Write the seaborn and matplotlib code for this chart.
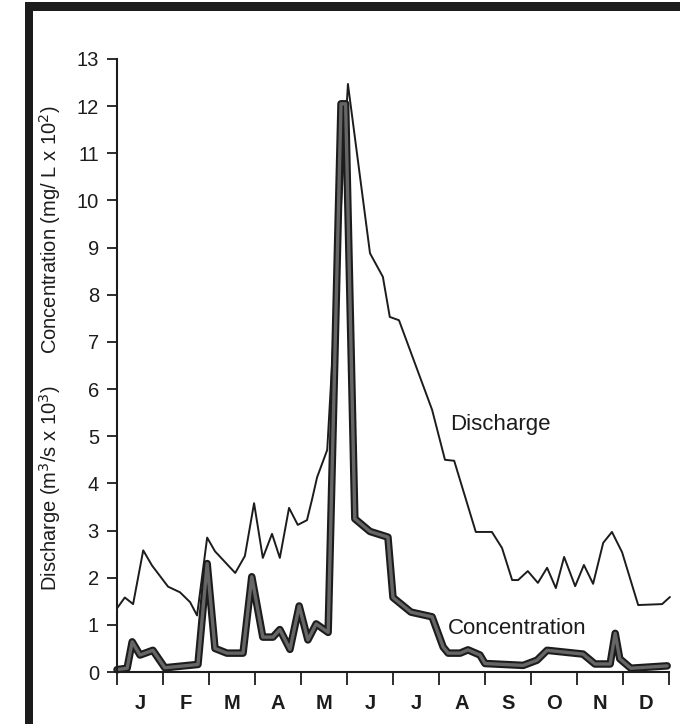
import matplotlib
matplotlib.use("Agg")
import numpy as np
import pandas as pd
import matplotlib.pyplot as plt
import matplotlib.patheffects as pe
from matplotlib.patches import Rectangle
import seaborn as sns

# x positions are in months from 1 January (0 = start of J, 12 = end of D)
months = ['J', 'F', 'M', 'A', 'M', 'J', 'J', 'A', 'S', 'O', 'N', 'D']

discharge_x = [0.0, 0.17, 0.35, 0.57, 0.76, 1.11, 1.37, 1.59, 1.74, 1.96,
               2.13, 2.57, 2.78, 2.98, 3.17, 3.37, 3.54, 3.74, 3.93, 4.13,
               4.24, 4.35, 4.57, 5.02, 5.50, 5.78, 5.93, 6.13, 6.85, 7.13,
               7.33, 7.80, 8.15, 8.37, 8.59, 8.72, 8.93, 9.15, 9.35, 9.54,
               9.72, 9.96, 10.15, 10.35, 10.57, 10.76, 10.98, 11.33, 11.85, 12.02]
discharge = [1.35, 1.58, 1.44, 2.58, 2.26, 1.81, 1.69, 1.48, 1.20, 2.85,
             2.56, 2.10, 2.46, 3.58, 2.42, 2.93, 2.42, 3.48, 3.12, 3.22,
             3.66, 4.13, 4.71, 12.47, 8.88, 8.38, 7.53, 7.46, 5.56, 4.50,
             4.48, 2.97, 2.97, 2.63, 1.95, 1.95, 2.14, 1.89, 2.21, 1.78,
             2.44, 1.82, 2.27, 1.87, 2.74, 2.97, 2.54, 1.42, 1.44, 1.59]

conc_x = [0.0, 0.22, 0.33, 0.50, 0.78, 1.04, 1.76, 1.96, 2.13, 2.39,
          2.74, 2.93, 3.17, 3.39, 3.54, 3.76, 3.96, 4.15, 4.33, 4.59,
          4.87, 4.97, 5.17, 5.50, 5.89, 6.00, 6.39, 6.85, 7.09, 7.20,
          7.46, 7.63, 7.89, 8.00, 8.83, 9.13, 9.35, 10.13, 10.39, 10.72,
          10.83, 10.93, 11.17, 11.96]
concentration = [0.05, 0.08, 0.64, 0.36, 0.46, 0.09, 0.16, 2.30, 0.50, 0.40,
                 0.40, 2.02, 0.74, 0.74, 0.90, 0.48, 1.40, 0.68, 1.02, 0.84,
                 12.05, 12.05, 3.25, 2.98, 2.86, 1.58, 1.27, 1.17, 0.53, 0.40,
                 0.40, 0.47, 0.36, 0.18, 0.14, 0.25, 0.46, 0.38, 0.17, 0.17,
                 0.82, 0.28, 0.08, 0.13]

df_d = pd.DataFrame({'month': discharge_x, 'value': discharge})
df_c = pd.DataFrame({'month': conc_x, 'value': concentration})

sns.set_theme(style="ticks")
plt.rcParams['font.family'] = ['Liberation Sans', 'DejaVu Sans']

INK = '#1c1c1c'

fig = plt.figure(figsize=(6.8, 7.24), dpi=100)
ax = fig.add_axes([117 / 680, 1 - 672 / 724, 552 / 680, 613 / 724])

sns.lineplot(data=df_d, x='month', y='value', ax=ax, color=INK, lw=1.4,
             sort=False, clip_on=False)
sns.lineplot(data=df_c, x='month', y='value', ax=ax, color='#666666', lw=2.4,
             sort=False, clip_on=False, solid_joinstyle='round',
             path_effects=[pe.Stroke(linewidth=5.4, foreground=INK, joinstyle='round'),
                           pe.Normal()])

ax.set_xlim(0, 12)
ax.set_ylim(0, 13)
sns.despine(ax=ax)
for s in ['left', 'bottom']:
    ax.spines[s].set_color(INK)
    ax.spines[s].set_linewidth(1.5)

ax.set_yticks(range(0, 14))
ax.tick_params(axis='y', direction='out', length=7, width=1.3, color=INK,
               labelsize=14.5, pad=6, labelcolor=INK)
ax.set_xticks(range(0, 13))
ax.set_xticklabels([])
ax.set_xticks(np.arange(0.5, 12, 1), minor=True)
ax.set_xticklabels(months, minor=True, fontsize=14.5, fontweight='bold', color=INK)
ax.tick_params(axis='x', which='major', direction='out', length=9, width=1.3, color=INK)
ax.tick_params(axis='x', which='minor', length=0, pad=16)
ax.set_xlabel('')
ax.set_ylabel('')

ax.text(7.24, 5.24, 'Discharge', fontsize=16, color=INK, va='center', ha='left')
ax.text(7.2, 0.93, 'Concentration', fontsize=16, color=INK, va='center', ha='left')

fig.text(50 / 680, 1 - 230 / 724, r'Concentration (mg/ L x 10$^2$)', rotation=90,
         fontsize=14.5, color=INK, ha='center', va='center')
fig.text(50 / 680, 1 - 488 / 724, r'Discharge (m$^3$/s x 10$^3$)', rotation=90,
         fontsize=14.5, color=INK, ha='center', va='center')

# frame edges of the scanned page
fig.add_artist(Rectangle((25 / 680, 0), 8 / 680, 1 - 2 / 724,
                         transform=fig.transFigure, color=INK, lw=0))
fig.add_artist(Rectangle((25 / 680, 1 - 11 / 724), 1, 9 / 724,
                         transform=fig.transFigure, color=INK, lw=0))

fig.savefig('out.png', dpi=100)
